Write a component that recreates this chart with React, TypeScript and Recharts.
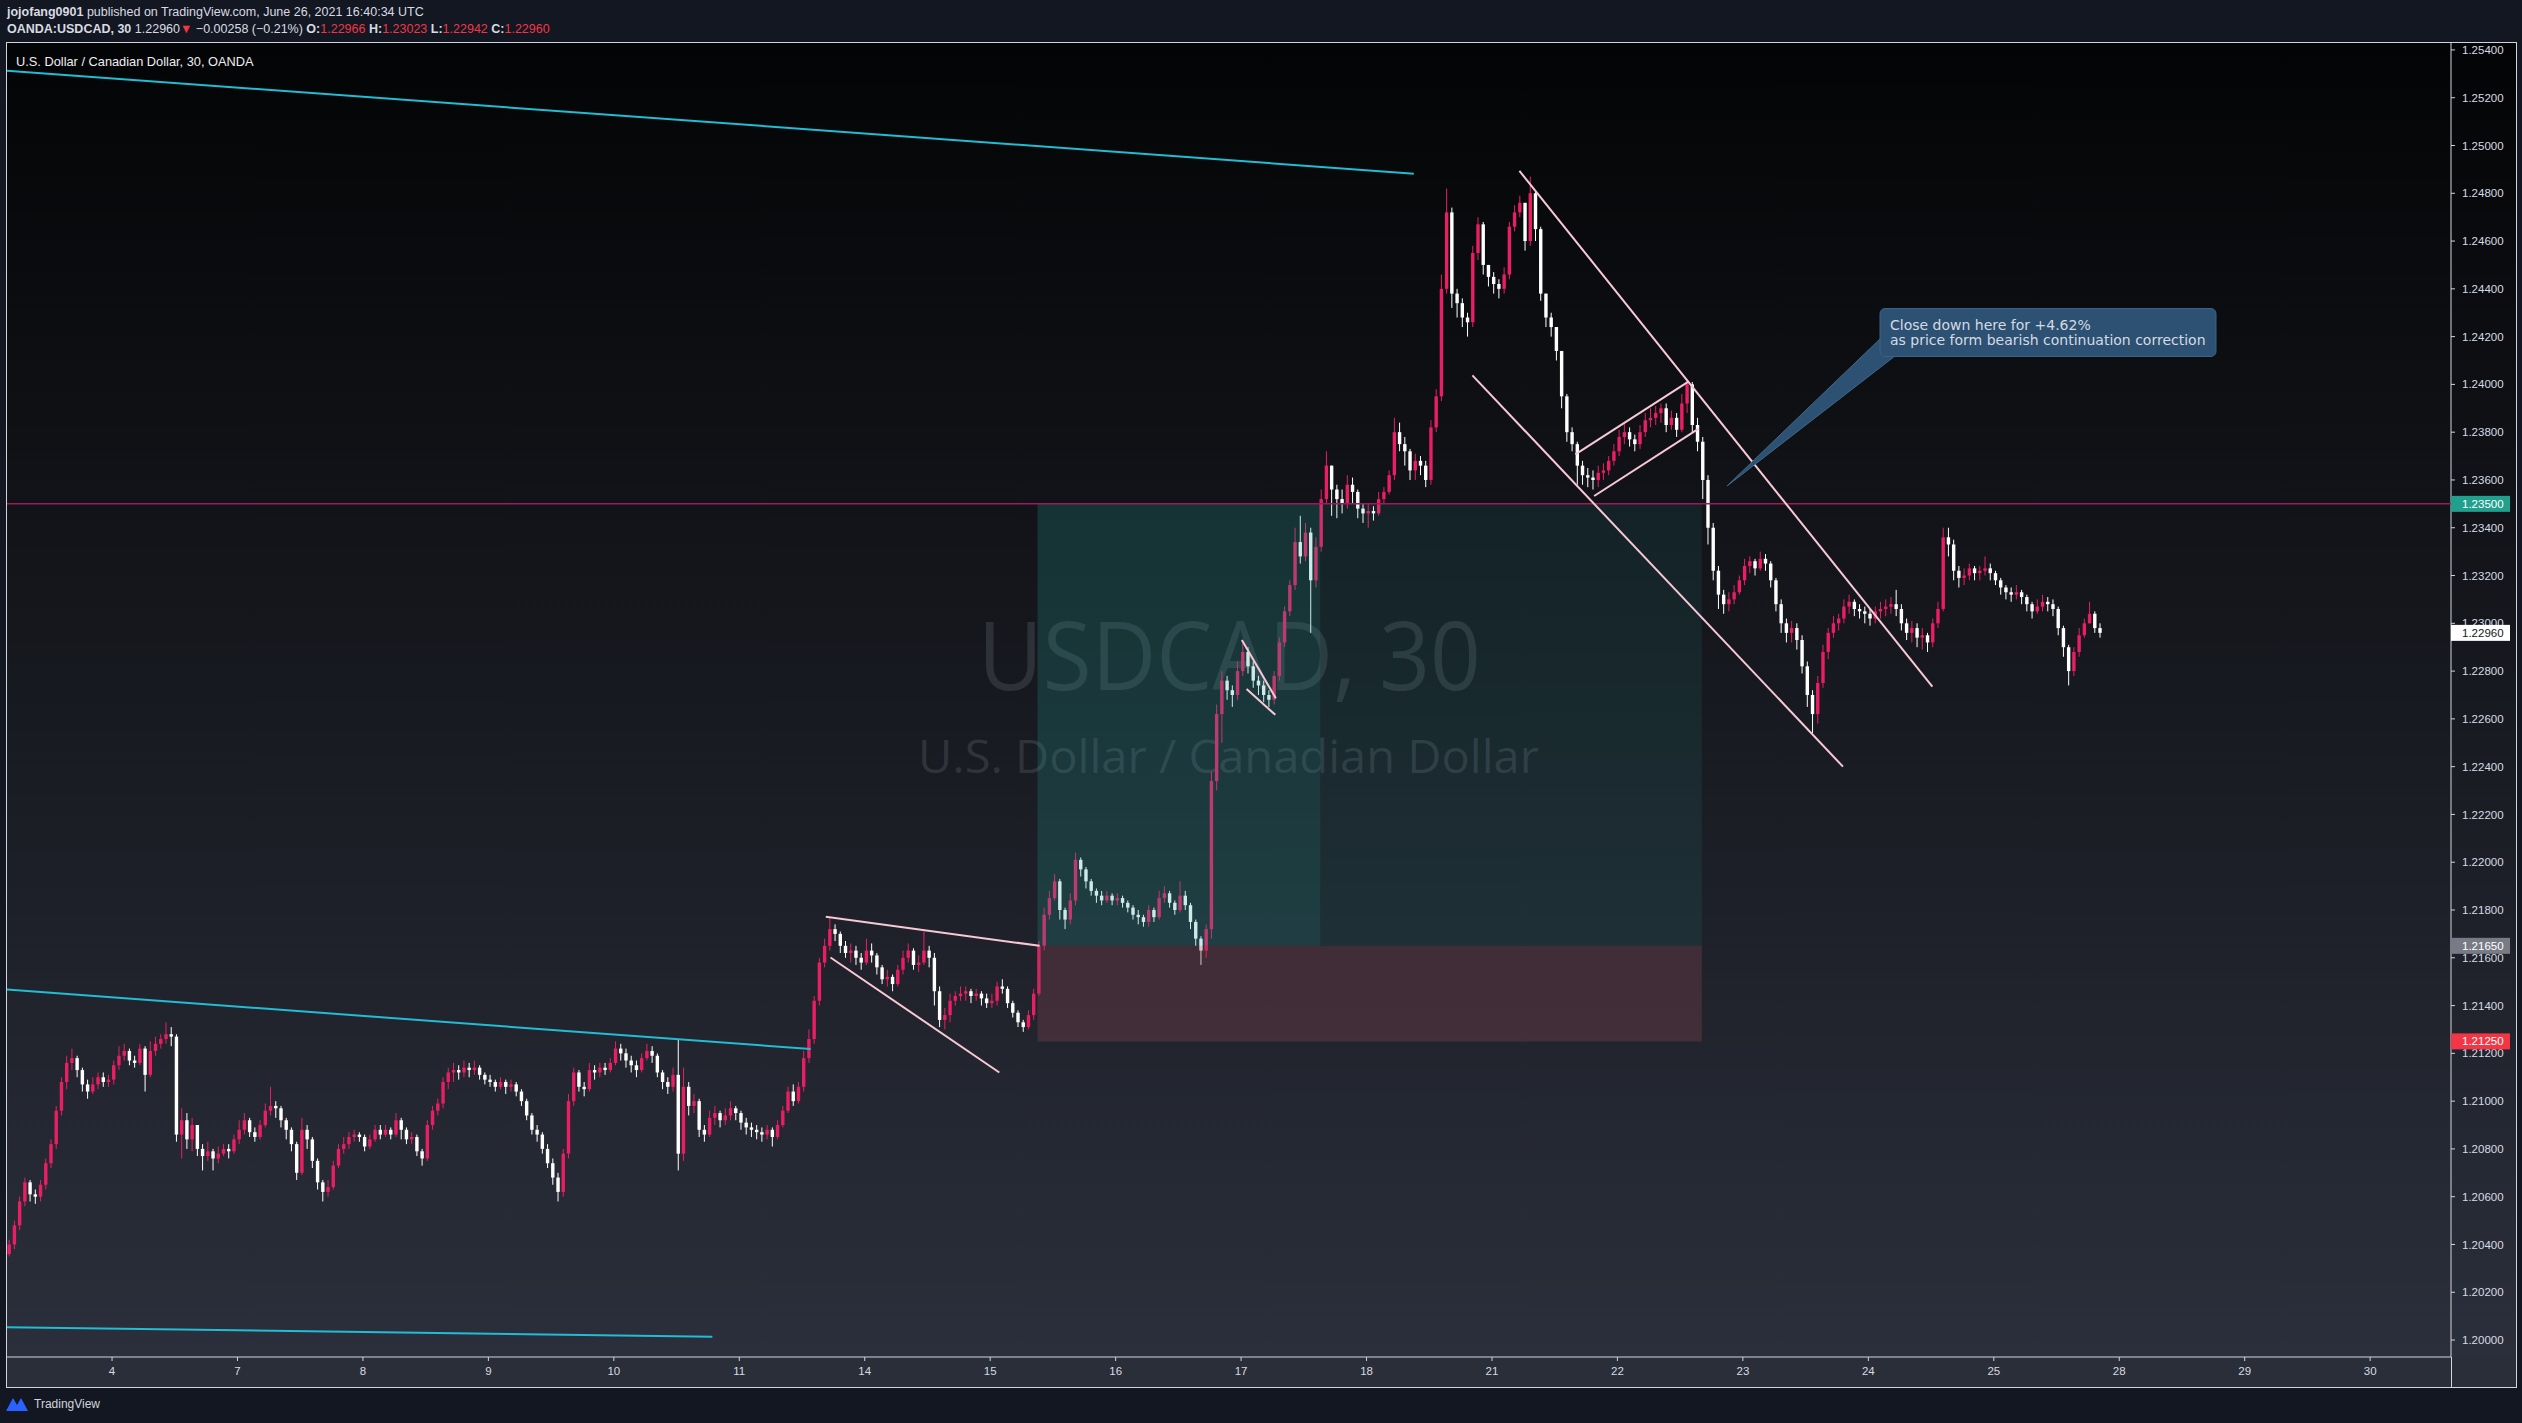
import { ComposedChart, Bar, XAxis, YAxis, ReferenceLine, ReferenceArea } from 'recharts';

// hourly bars: [close, high, low] in pips above 1.20000
type Hlc = [number, number, number];

const BASE = 1.2;
const PIP = 0.0001;
const firstOpen = 36;

const jun03: Hlc[] = [
  [40, 42, 35], [48, 50, 38], [58, 60, 46], [66, 68, 56], [61, 67, 58], [60, 63, 57], [65, 67, 58], [74, 76, 63],
  [82, 84, 72], [96, 98, 80], [108, 110, 94], [116, 119, 105], [118, 122, 113], [113, 119, 110], [107, 114, 104],
  [104, 109, 101], [107, 110, 103], [110, 112, 105], [108, 112, 106], [109, 111, 106],
];
const jun04: Hlc[] = [
  [115, 117, 107], [119, 123, 113], [121, 124, 117], [117, 122, 115], [116, 119, 114], [122, 124, 115], [111, 123, 104], [121, 125, 110],
  [124, 127, 119], [126, 128, 122], [128, 133, 124], [127, 131, 123], [86, 128, 83], [92, 97, 76], [84, 95, 80], [90, 93, 79],
  [80, 88, 77], [77, 82, 71], [79, 83, 75], [76, 80, 71], [78, 81, 74], [80, 82, 77], [79, 82, 76], [84, 86, 78],
];
const jun07: Hlc[] = [
  [88, 92, 82], [92, 95, 86], [87, 93, 85], [85, 89, 83], [90, 92, 84], [96, 99, 89], [98, 106, 94], [97, 100, 93],
  [92, 98, 89], [88, 93, 84], [82, 89, 79], [70, 83, 67], [88, 93, 69], [84, 90, 80], [75, 85, 72], [66, 76, 63],
  [62, 67, 58], [64, 67, 60], [73, 75, 63], [80, 82, 72], [82, 85, 78], [85, 87, 80], [86, 88, 83], [85, 87, 83],
];
const jun08: Hlc[] = [
  [81, 86, 79], [84, 86, 80], [88, 90, 83], [86, 90, 84], [88, 90, 85], [86, 89, 84], [92, 95, 85], [88, 93, 84],
  [84, 89, 82], [85, 87, 82], [79, 86, 77], [76, 80, 73], [90, 92, 75], [96, 98, 88], [99, 101, 94], [108, 110, 97],
  [112, 114, 105], [113, 116, 108], [112, 115, 109], [114, 117, 110], [113, 116, 110], [114, 117, 111], [111, 115, 109], [109, 112, 107],
];
const jun09: Hlc[] = [
  [108, 111, 106], [106, 109, 104], [108, 110, 105], [106, 109, 103], [107, 109, 104], [104, 108, 102], [100, 105, 98], [94, 101, 92],
  [88, 95, 86], [86, 90, 83], [80, 87, 78], [74, 82, 72], [68, 76, 65], [62, 70, 58], [78, 80, 60], [100, 103, 76],
  [112, 114, 98], [106, 113, 104], [105, 108, 102], [113, 116, 104], [112, 115, 109], [114, 116, 110], [113, 116, 111], [116, 118, 112],
];
const jun10: Hlc[] = [
  [122, 125, 115], [120, 124, 117], [117, 122, 114], [115, 119, 112], [113, 117, 110], [118, 120, 112], [121, 124, 117], [119, 123, 116],
  [112, 120, 110], [108, 113, 105], [106, 110, 103], [111, 114, 104], [78, 126, 71], [106, 114, 75], [98, 108, 94], [100, 103, 95],
  [88, 101, 85], [86, 90, 83], [93, 96, 85], [95, 98, 90], [92, 96, 89], [94, 97, 90], [97, 100, 92], [95, 98, 92],
];
const jun11: Hlc[] = [
  [91, 96, 88], [89, 93, 86], [88, 91, 85], [87, 90, 84], [86, 89, 83], [88, 90, 84], [85, 89, 81], [90, 92, 84],
  [96, 98, 89], [104, 106, 95], [100, 107, 98], [106, 108, 99], [118, 121, 104], [126, 130, 116], [142, 144, 124], [158, 160, 140],
  [165, 168, 156], [172, 177, 163], [170, 174, 167], [165, 171, 162], [162, 167, 160], [163, 166, 158], [160, 165, 157], [158, 162, 155],
];
const jun14: Hlc[] = [
  [163, 168, 157], [161, 166, 158], [156, 162, 153], [151, 157, 149], [152, 155, 148], [149, 153, 146], [155, 157, 148], [160, 163, 153],
  [163, 166, 158], [157, 164, 155], [158, 161, 154], [163, 171, 157], [160, 165, 156], [146, 162, 140], [134, 148, 131], [136, 139, 130],
  [142, 145, 133], [144, 146, 140], [145, 148, 142], [146, 148, 142], [144, 147, 141], [145, 147, 142], [143, 146, 140], [141, 145, 139],
];
const jun15: Hlc[] = [
  [142, 145, 139], [148, 150, 140], [147, 151, 145], [141, 148, 139], [137, 142, 135], [133, 138, 131], [131, 134, 129], [136, 138, 130],
  [145, 147, 134], [165, 167, 144], [178, 181, 163], [185, 188, 176], [192, 195, 184], [180, 193, 176], [176, 181, 172], [184, 187, 174],
  [201, 204, 182], [197, 202, 194], [192, 198, 189], [188, 193, 186], [186, 189, 183], [184, 188, 182], [186, 188, 183], [184, 187, 182],
];
const jun16: Hlc[] = [
  [185, 187, 182], [183, 186, 181], [181, 184, 179], [178, 182, 176], [177, 180, 174], [175, 178, 173], [180, 182, 173], [177, 181, 175],
  [185, 188, 176], [187, 190, 183], [183, 188, 181], [180, 184, 178], [186, 192, 179], [182, 188, 180], [175, 183, 172], [168, 176, 165],
  [163, 169, 157], [172, 174, 160], [234, 238, 168], [262, 266, 230], [276, 280, 250], [272, 278, 268], [270, 274, 265], [280, 284, 268],
];
const jun17: Hlc[] = [
  [288, 292, 278], [282, 290, 279], [276, 284, 273], [274, 278, 270], [270, 276, 267], [268, 272, 265], [278, 280, 266], [292, 294, 276],
  [305, 307, 290], [316, 318, 303], [334, 340, 314], [328, 345, 325], [338, 342, 326], [318, 340, 296], [332, 336, 315], [352, 356, 330],
  [366, 372, 350], [356, 366, 345], [352, 358, 344], [350, 356, 346], [358, 362, 348], [355, 361, 350], [348, 356, 344], [346, 350, 342],
];
const jun18: Hlc[] = [
  [347, 350, 340], [346, 349, 343], [352, 355, 345], [355, 357, 350], [362, 364, 354], [380, 386, 360], [375, 384, 372], [372, 378, 366],
  [364, 373, 360], [368, 371, 360], [366, 370, 362], [360, 368, 357], [382, 385, 358], [395, 398, 380], [440, 446, 393], [472, 482, 438],
  [438, 474, 432], [434, 440, 428], [428, 436, 424], [426, 430, 420], [455, 458, 424], [467, 470, 452], [450, 468, 446], [445, 450, 441],
];
const jun21: Hlc[] = [
  [442, 447, 438], [440, 444, 436], [446, 449, 438], [466, 468, 444], [472, 475, 464], [476, 479, 470], [460, 476, 456], [480, 487, 458],
  [465, 481, 460], [438, 466, 435], [428, 438, 424], [424, 430, 420], [414, 424, 410], [395, 414, 390], [380, 396, 376], [375, 382, 372],
  [366, 376, 358], [362, 368, 358], [361, 365, 357], [360, 364, 356], [363, 366, 357], [364, 367, 360], [368, 370, 362], [372, 375, 366],
];
const jun22: Hlc[] = [
  [378, 381, 370], [380, 384, 375], [377, 382, 374], [375, 379, 372], [380, 383, 373], [385, 388, 378], [386, 390, 382], [388, 391, 383],
  [390, 392, 384], [383, 392, 380], [386, 389, 381], [381, 388, 378], [392, 396, 380], [400, 402, 388], [383, 401, 380], [376, 386, 372],
  [360, 378, 352], [340, 362, 333], [322, 342, 318], [312, 324, 306], [308, 314, 304], [310, 313, 305], [313, 316, 308], [318, 320, 312],
];
const jun23: Hlc[] = [
  [324, 327, 316], [326, 328, 321], [323, 327, 320], [327, 330, 322], [325, 329, 322], [318, 326, 315], [308, 319, 305], [300, 310, 296],
  [296, 302, 292], [298, 301, 292], [293, 300, 289], [282, 295, 279], [270, 284, 265], [262, 272, 254], [275, 278, 258], [288, 291, 273],
  [296, 298, 285], [300, 303, 294], [302, 304, 297], [307, 310, 300], [309, 312, 304], [306, 310, 303], [305, 308, 302], [304, 307, 300],
];
const jun24: Hlc[] = [
  [302, 306, 299], [305, 307, 300], [306, 309, 302], [307, 310, 303], [308, 311, 304], [306, 314, 303], [300, 308, 297], [296, 302, 293],
  [298, 301, 292], [294, 300, 290], [295, 298, 289], [292, 296, 288], [300, 302, 290], [306, 309, 298], [336, 340, 305], [333, 340, 328],
  [322, 335, 318], [319, 324, 315], [320, 323, 316], [323, 325, 318], [321, 324, 318], [322, 324, 318], [323, 328, 320], [321, 325, 318],
];
const jun25: Hlc[] = [
  [318, 322, 316], [315, 319, 312], [313, 316, 310], [312, 315, 309], [313, 316, 310], [311, 314, 308], [308, 312, 305], [305, 309, 302],
  [307, 310, 304], [309, 312, 305], [308, 311, 305], [306, 310, 303], [298, 307, 295], [290, 299, 286], [280, 291, 274], [288, 290, 278],
  [295, 298, 286], [300, 302, 294], [304, 309, 300], [298, 305, 296], [296, 300, 294],
];

const sessions = [jun03, jun04, jun07, jun08, jun09, jun10, jun11, jun14, jun15, jun16, jun17, jun18, jun21, jun22, jun23, jun24, jun25];

const dayLabels = ['4', '7', '8', '9', '10', '11', '14', '15', '16', '17', '18', '21', '22', '23', '24', '25', '28', '29', '30'];
const firstDayBar = 19.75;
const barsPerDay = 24;

const priceTicks = [
  1.2, 1.202, 1.204, 1.206, 1.208, 1.21, 1.212, 1.214, 1.216, 1.218, 1.22, 1.222, 1.224, 1.226,
  1.228, 1.23, 1.232, 1.234, 1.236, 1.238, 1.24, 1.242, 1.244, 1.246, 1.248, 1.25, 1.252, 1.254,
];

// drawings: [[bar, pips], [bar, pips]]
const cyanLines = [
  [[-0.34, 531.3], [268.8, 488.2]],
  [[-0.34, 146.7], [153.4, 121.8]],
  [[-0.34, 5.4], [134.6, 1.4]],
];
const pinkLines = [
  [[156.3, 177.2], [197.2, 165.0]],
  [[157.2, 160.1], [189.5, 112.0]],
  [[235.9, 293.0], [242.4, 268.6]],
  [[236.8, 272.5], [242.3, 261.7]],
  [[289.0, 489.4], [368.0, 273.5]],
  [[280.0, 403.8], [350.9, 240.0]],
  [[299.7, 370.7], [321.4, 401.3]],
  [[303.3, 353.3], [323.3, 381.5]],
];

// long position tool
const entryPrice = 1.2165;
const stopPrice = 1.2125;
const targetPrice = 1.235;
const entryBar = 196.8;
const hitBar = 250.9;
const endBar = 323.9;

const priceTags = [
  { price: 1.235, text: '1.23500', bg: '#22a08e', fg: '#ffffff' },
  { price: 1.2296, text: '1.22960', bg: '#ffffff', fg: '#131722' },
  { price: 1.2165, text: '1.21650', bg: '#787b86', fg: '#ffffff' },
  { price: 1.2125, text: '1.21250', bg: '#f23645', fg: '#ffffff' },
];

const candles: any[] = [];
{
  let prev = firstOpen;
  let i = 0;
  for (const day of sessions) {
    for (const [c, h, l] of day) {
      const open = BASE + prev * PIP;
      const close = BASE + c * PIP;
      const high = Math.max(BASE + h * PIP, open, close);
      const low = Math.min(BASE + l * PIP, open, close);
      candles.push({ i, open, close, high, low, range: [low, high] });
      prev = c;
      i++;
    }
  }
}

const dayTicks = dayLabels.map((_, d) => firstDayBar + d * barsPerDay);
const xDomain = [-0.344, 467.22];
const yDomain = [1.19929, 1.25429];

const Candle = (props: any) => {
  const { x, y, width, height, payload } = props;
  if (x == null || y == null) return null;
  const { open, close, high, low } = payload;
  const up = close >= open;
  const color = up ? '#e91e63' : '#ffffff';
  const top = Math.min(y, y + height);
  const h = Math.abs(height);
  const ppu = high - low > 0 ? h / (high - low) : 0;
  const yo = top + (high - open) * ppu;
  const yc = top + (high - close) * ppu;
  const cx = x + width / 2;
  const bw = 3.4;
  return (
    <g>
      <line x1={cx} x2={cx} y1={top} y2={top + h} stroke={color} strokeWidth={1} />
      <rect x={cx - bw / 2} y={Math.min(yo, yc)} width={bw} height={Math.max(1, Math.abs(yo - yc))} fill={color} />
    </g>
  );
};

const PriceTag = ({ viewBox, text, bg, fg }: any) => {
  if (!viewBox) return null;
  const x = viewBox.x + viewBox.width;
  const y = viewBox.y;
  return (
    <g>
      <rect x={x} y={y - 8} width={59} height={16} fill={bg} />
      <text x={x + 11} y={y + 4} fill={fg} fontSize={11.5} fontFamily="Liberation Sans">{text}</text>
    </g>
  );
};

const axisText = { fill: '#d8dbe2', fontSize: 11.5, fontFamily: 'Liberation Sans' };
const frame = '#d1d4dc';
const chartW = 2509;
const chartH = 1344;
const noMargin = { top: 0, right: 0, bottom: 0, left: 0 };

export default function App() {
  return (
    <div style={{ position: 'absolute', left: 0, top: 0, width: 2522, height: 1423, background: '#131722', overflow: 'hidden', fontFamily: '"Liberation Sans", sans-serif' }}>
      <div style={{ position: 'absolute', left: 7, top: 4, fontSize: 12.5, lineHeight: '17px', color: '#d8dbe2', whiteSpace: 'nowrap' }}>
        <div><b>jojofang0901</b> published on TradingView.com, June 26, 2021 16:40:34 UTC</div>
        <div>
          <b>OANDA:USDCAD, 30</b> 1.22960<span style={{ color: '#f23645' }}>▼</span> −0.00258 (−0.21%){' '}
          <b>O:</b><span style={{ color: '#f23645' }}>1.22966</span> <b>H:</b><span style={{ color: '#f23645' }}>1.23023</span>{' '}
          <b>L:</b><span style={{ color: '#f23645' }}>1.22942</span> <b>C:</b><span style={{ color: '#f23645' }}>1.22960</span>
        </div>
      </div>

      <div style={{ position: 'absolute', left: 7, top: 43, width: 2509, height: 1314, background: 'linear-gradient(to bottom, #030405 0%, #2b2f3b 100%)' }} />
      <div style={{ position: 'absolute', left: 7, top: 1357, width: 2509, height: 30, background: '#2a2e39' }} />
      <div style={{ position: 'absolute', left: 6, top: 42, width: 2511, height: 1346, border: `1px solid ${frame}`, boxSizing: 'border-box' }} />
      <div style={{ position: 'absolute', left: 2451, top: 1357, width: 1, height: 30, background: frame }} />

      <svg width={2522} height={1423} style={{ position: 'absolute', left: 0, top: 0 }}>
        <text x={978} y={690} fontSize={96} textLength={503} lengthAdjust="spacingAndGlyphs" fontFamily="Open Sans" fill="#787b86" fillOpacity={0.25}>USDCAD, 30</text>
        <text x={918} y={773} fontSize={45} textLength={621} lengthAdjust="spacingAndGlyphs" fontFamily="Open Sans" fill="#787b86" fillOpacity={0.25}>U.S. Dollar / Canadian Dollar</text>
      </svg>

      {/* candles and axes */}
      <div style={{ position: 'absolute', left: 7, top: 43 }}>
        <ComposedChart width={chartW} height={chartH} data={candles} margin={noMargin}>
          <XAxis
            dataKey="i"
            type="number"
            domain={xDomain}
            allowDataOverflow
            ticks={dayTicks}
            interval={0}
            tickFormatter={(v: number) => dayLabels[Math.round((v - firstDayBar) / barsPerDay)] ?? ''}
            height={30}
            axisLine={{ stroke: frame }}
            tickLine={{ stroke: frame }}
            tickSize={4}
            tickMargin={6}
            tick={axisText}
          />
          <YAxis
            orientation="right"
            type="number"
            domain={yDomain}
            allowDataOverflow
            ticks={priceTicks}
            interval={0}
            tickFormatter={(v: number) => v.toFixed(5)}
            width={65}
            axisLine={{ stroke: frame }}
            tickLine={{ stroke: frame }}
            tickSize={4}
            tickMargin={7}
            tick={{ ...axisText, textAnchor: 'start' }}
          />
          <Bar dataKey="range" barSize={4} shape={Candle} isAnimationActive={false} />
        </ComposedChart>
      </div>

      {/* drawings on top of the candles, same scales */}
      <div style={{ position: 'absolute', left: 7, top: 43 }}>
        <ComposedChart width={chartW} height={chartH} data={candles} margin={noMargin}>
          <XAxis dataKey="i" type="number" domain={xDomain} allowDataOverflow height={30} tick={false} axisLine={false} tickLine={false} />
          <YAxis orientation="right" type="number" domain={yDomain} allowDataOverflow width={65} tick={false} axisLine={false} tickLine={false} />
          <ReferenceArea x1={entryBar} x2={endBar} y1={entryPrice} y2={targetPrice} fill="#26a69a" fillOpacity={0.11} stroke="none" />
          <ReferenceArea x1={entryBar} x2={hitBar} y1={entryPrice} y2={targetPrice} fill="#26a69a" fillOpacity={0.13} stroke="none" />
          <ReferenceArea x1={entryBar} x2={endBar} y1={stopPrice} y2={entryPrice} fill="#8a4450" fillOpacity={0.32} stroke="none" />
          <ReferenceLine y={targetPrice} stroke="#9c1b5a" strokeWidth={1.5} label={(p: any) => <PriceTag viewBox={p.viewBox} {...priceTags[0]} />} />
          {priceTags.slice(1).map((t) => (
            <ReferenceLine key={t.text} y={t.price} stroke="none" strokeOpacity={0} label={(p: any) => <PriceTag viewBox={p.viewBox} {...t} />} />
          ))}
          {cyanLines.map((s, k) => (
            <ReferenceLine key={`c${k}`} segment={[{ x: s[0][0], y: BASE + s[0][1] * PIP }, { x: s[1][0], y: BASE + s[1][1] * PIP }]} stroke="#22bcd4" strokeWidth={2} />
          ))}
          {pinkLines.map((s, k) => (
            <ReferenceLine key={`p${k}`} segment={[{ x: s[0][0], y: BASE + s[0][1] * PIP }, { x: s[1][0], y: BASE + s[1][1] * PIP }]} stroke="#f8c8d4" strokeWidth={2} />
          ))}
        </ComposedChart>
      </div>

      <div style={{ position: 'absolute', left: 16, top: 54, fontSize: 12.8, lineHeight: '16px', color: '#eceef2', whiteSpace: 'nowrap' }}>
        U.S. Dollar / Canadian Dollar, 30, OANDA
      </div>

      <svg width={2522} height={1423} style={{ position: 'absolute', left: 0, top: 0, pointerEvents: 'none' }}>
        <polygon points="1881,338 1895,356 1727,486" fill="#2c5173" stroke="#41698d" strokeWidth={1} />
        <rect x={1880} y={308.5} width={336} height={48} rx={5} fill="#2c5173" stroke="#3b6386" strokeWidth={1} />
        <polygon points="1882,340 1896,355.5 1884,355.5" fill="#2c5173" />
        <text x={1890} y={330} fontSize={14} fontFamily="DejaVu Sans" fill="#d6dae2">Close down here for +4.62%</text>
        <text x={1890} y={344.5} fontSize={14} fontFamily="DejaVu Sans" fill="#d6dae2">as price form bearish continuation correction</text>
        <path d="M6 1411 L13 1398 L17 1405 L21 1398 L28 1411 Z" fill="#2962ff" />
        <text x={34} y={1408} fontSize={12} fontFamily="Liberation Sans" fill="#d1d4dc">TradingView</text>
      </svg>
    </div>
  );
}
